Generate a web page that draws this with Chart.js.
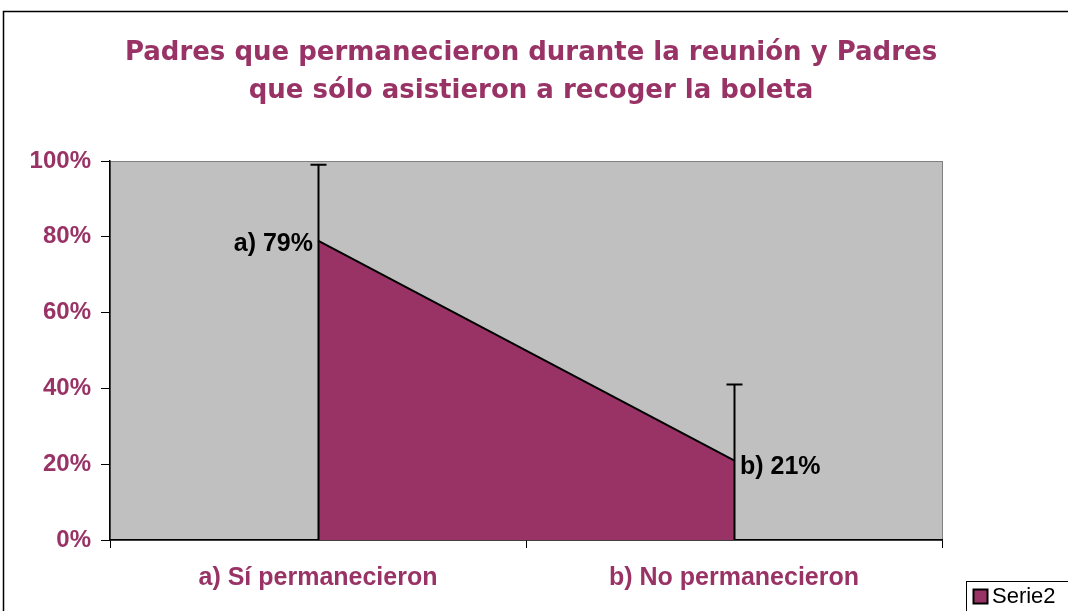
<!DOCTYPE html>
<html>
<head>
    <style>
        body, html {
            margin: 0;
            width: 100%;
            height: 100%;
            background: #ffffff;
        }
        #container {
            width: 1068px;
            height: 611px;
        }
    </style>
    <script src="https://cdn.jsdelivr.net/npm/chart.js"></script>
</head>
<body>
    <div id="container">
        <canvas id="padresChart" width="1068" height="611"></canvas>
    </div>

    <script>
        const categories = ["a) Sí permanecieron", "b) No permanecieron"];
        const serie2 = [79, 21];
        const errorPlus = [20, 20];
        const pointLabels = ["a) 79%", "b) 21%"];
        const yTicks = [0, 20, 40, 60, 80, 100];
        const titleLines = ["Padres que permanecieron durante la reunión y Padres", "que sólo asistieron a recoger la boleta"];
        const seriesName = "Serie2";

        const purple = "#993366";
        const plotGray = "#C0C0C0";

        // gray plot background + outer frame of the chart
        const backgroundPlugin = {
            id: "background",
            beforeDraw(chart) {
                const { ctx, chartArea } = chart;
                ctx.save();
                ctx.fillStyle = "#ffffff";
                ctx.fillRect(0, 0, chart.width, chart.height);
                ctx.strokeStyle = "#000000";
                ctx.lineWidth = 1.5;
                ctx.strokeRect(3.5, 11.5, chart.width + 10, chart.height + 10);
                ctx.fillStyle = plotGray;
                ctx.fillRect(chartArea.left, chartArea.top, chartArea.right - chartArea.left, chartArea.bottom - chartArea.top);
                ctx.strokeStyle = "#808080";
                ctx.lineWidth = 1;
                ctx.strokeRect(chartArea.left + 0.5, chartArea.top + 0.5, chartArea.right - chartArea.left, chartArea.bottom - chartArea.top);
                ctx.restore();
            }
        };

        // title, error bars, point labels and legend
        const overlayPlugin = {
            id: "overlay",
            afterDatasetsDraw(chart) {
                const { ctx } = chart;
                const x = chart.scales.x;
                const y = chart.scales.y;
                ctx.save();
                ctx.strokeStyle = "#000000";
                ctx.lineWidth = 2;
                serie2.forEach((v, i) => {
                    const px = Math.round(x.getPixelForValue(i)) + 0.5;
                    const top = y.getPixelForValue(v + errorPlus[i]);
                    ctx.beginPath();
                    ctx.moveTo(px, y.getPixelForValue(0));
                    ctx.lineTo(px, top);
                    ctx.moveTo(px - 8, top);
                    ctx.lineTo(px + 8, top);
                    ctx.stroke();
                });

                ctx.fillStyle = "#000000";
                ctx.font = "bold 25px 'Liberation Sans', Arial, sans-serif";
                ctx.textBaseline = "middle";
                ctx.textAlign = "right";
                ctx.fillText(pointLabels[0], x.getPixelForValue(0) - 5, y.getPixelForValue(serie2[0]) + 4);
                ctx.textAlign = "left";
                ctx.fillText(pointLabels[1], x.getPixelForValue(1) + 6, y.getPixelForValue(serie2[1]) + 7);

                ctx.fillStyle = purple;
                ctx.textAlign = "center";
                ctx.textBaseline = "alphabetic";
                ctx.font = "bold 26px 'DejaVu Sans', Verdana, sans-serif";
                ctx.fillText(titleLines[0], 531, 60);
                ctx.fillText(titleLines[1], 531, 98);

                // legend box, clipped by the canvas edge like the original
                ctx.strokeStyle = "#000000";
                ctx.lineWidth = 1;
                ctx.fillStyle = "#ffffff";
                ctx.fillRect(966.5, 581.5, 120, 40);
                ctx.strokeRect(966.5, 581.5, 120, 40);
                ctx.fillStyle = purple;
                ctx.fillRect(973.5, 589.5, 14, 14);
                ctx.lineWidth = 2;
                ctx.strokeRect(973.5, 589.5, 14, 14);
                ctx.fillStyle = "#000000";
                ctx.font = "22px 'Liberation Sans', Arial, sans-serif";
                ctx.textAlign = "left";
                ctx.textBaseline = "middle";
                ctx.fillText(seriesName, 992, 597);
                ctx.restore();
            }
        };

        const ctx = document.getElementById("padresChart").getContext("2d");
        const padresChart = new Chart(ctx, {
            type: "line",
            data: {
                labels: categories,
                datasets: [{
                    label: seriesName,
                    data: serie2,
                    fill: "origin",
                    backgroundColor: purple,
                    borderColor: "#000000",
                    borderWidth: 2,
                    tension: 0,
                    pointRadius: 0
                }]
            },
            options: {
                responsive: false,
                animation: false,
                layout: {
                    padding: { left: 0, top: 161, right: 126, bottom: 0 }
                },
                plugins: {
                    legend: { display: false },
                    title: { display: false },
                    tooltip: { enabled: false }
                },
                scales: {
                    x: {
                        type: "category",
                        offset: true,
                        afterFit: (s) => { s.height = 71; },
                        border: { color: "#000000", width: 1.5 },
                        grid: {
                            offset: true,
                            drawOnChartArea: false,
                            color: "#000000",
                            tickLength: 8
                        },
                        ticks: {
                            color: purple,
                            padding: 15,
                            font: { family: "'Liberation Sans', Arial, sans-serif", size: 25, weight: "bold" }
                        }
                    },
                    y: {
                        min: 0,
                        max: 100,
                        afterFit: (s) => { s.width = 110; },
                        afterBuildTicks: (s) => { s.ticks = yTicks.map(v => ({ value: v })); },
                        border: { color: "#000000", width: 1.5 },
                        grid: {
                            drawOnChartArea: false,
                            color: "#000000",
                            tickLength: 9
                        },
                        ticks: {
                            color: purple,
                            padding: 10,
                            callback: (v) => v + "%",
                            font: { family: "'Liberation Sans', Arial, sans-serif", size: 24, weight: "bold" }
                        }
                    }
                }
            },
            plugins: [backgroundPlugin, overlayPlugin]
        });
    </script>
</body>
</html>
